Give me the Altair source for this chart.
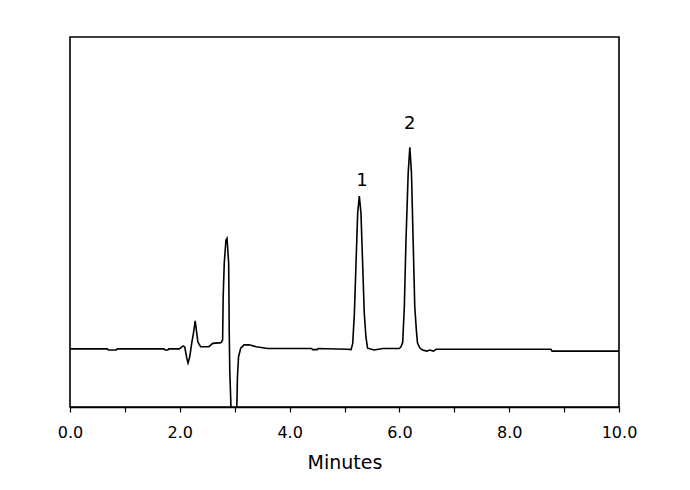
import altair as alt
import pandas as pd

# Chromatogram trace (minutes, detector signal in arbitrary units 0-100)
minutes = [
    0.00, 0.68, 0.70, 0.84, 0.86, 1.71, 1.73, 1.78, 1.80, 1.99,
    2.06, 2.09, 2.13, 2.15, 2.18, 2.22, 2.25, 2.28, 2.30, 2.33,
    2.38, 2.42, 2.53, 2.60, 2.75, 2.78, 2.79, 2.81, 2.84, 2.86,
    2.89, 2.90, 2.91, 2.93, 2.95, 3.00, 3.03, 3.04, 3.05, 3.07,
    3.11, 3.17, 3.26, 3.39, 3.60, 4.40, 4.42, 4.50, 4.52, 5.05,
    5.12, 5.15, 5.18, 5.21, 5.24, 5.27, 5.30, 5.33, 5.36, 5.39,
    5.42, 5.54, 5.70, 6.00, 6.03, 6.06, 6.09, 6.12, 6.16, 6.19,
    6.22, 6.25, 6.28, 6.31, 6.33, 6.37, 6.42, 6.50, 6.55, 6.62,
    6.67, 8.76, 8.78, 10.00,
]
signal = [
    15.7, 15.7, 15.4, 15.4, 15.7, 15.7, 15.4, 15.4, 15.7, 15.7,
    16.5, 16.2, 13.0, 11.9, 13.5, 17.5, 20.0, 23.3, 21.0, 17.5,
    16.3, 16.3, 16.3, 17.2, 17.4, 18.1, 29.8, 38.9, 45.1, 45.6,
    38.9, 20.8, 10.0, 1.1, -20.0, -20.0, -5.0, 1.1, 8.2, 13.6,
    15.9, 16.8, 16.8, 16.3, 15.8, 15.8, 15.5, 15.5, 15.8, 15.6,
    15.5, 17.2, 25.3, 38.9, 52.4, 57.0, 52.4, 38.9, 25.4, 19.0,
    15.9, 15.4, 15.8, 15.8, 16.3, 17.5, 27.1, 45.1, 63.2, 70.2,
    63.2, 45.1, 27.1, 20.5, 17.3, 16.0, 15.4, 15.1, 15.4, 15.1,
    15.6, 15.6, 15.1, 15.1,
]

peak_labels = ["1", "2"]
peak_x = [5.32, 6.19]
peak_y = [61.1, 76.5]

tick_values = [0, 1, 2, 3, 4, 5, 6, 7, 8, 9, 10]

trace = pd.DataFrame({"t": minutes, "s": signal})
labels = pd.DataFrame({"t": peak_x, "s": peak_y, "label": peak_labels})

FONT = "DejaVu Sans"

x_enc = alt.X(
    "t:Q",
    scale=alt.Scale(domain=[0, 10], nice=False, zero=False),
    axis=alt.Axis(
        title="Minutes",
        values=tick_values,
        labelExpr="datum.value % 2 == 0 ? format(datum.value, '.1f') : ''",
        grid=False,
        domainColor="black",
        domainWidth=1.5,
        tickColor="black",
        tickWidth=1.2,
        tickSize=5,
        labelFontSize=16,
        labelColor="black",
        labelFont=FONT,
        labelPadding=12,
        labelFlush=False,
        titleFontSize=19,
        titleFont=FONT,
        titleFontWeight="normal",
        titleColor="black",
        titlePadding=13,
    ),
)
y_enc = alt.Y("s:Q", scale=alt.Scale(domain=[0, 100], nice=False), axis=None)

line = alt.Chart(trace).mark_line(color="black", strokeWidth=1.6, clip=True).encode(
    x=x_enc, y=y_enc, order="t:Q"
)

text = alt.Chart(labels).mark_text(
    fontSize=18, font=FONT, color="black", baseline="middle", align="center"
).encode(
    x=alt.X("t:Q"), y=alt.Y("s:Q"), text="label:N"
)

chart = (
    alt.layer(line, text)
    .properties(
        width=549,
        height=370,
        padding={"left": 49, "top": 29, "right": 5, "bottom": 5},
        background="white",
    )
    .configure_view(stroke="black", strokeWidth=1.6)
)

chart.save("out.html", embed_options={"renderer": "svg", "actions": False})
